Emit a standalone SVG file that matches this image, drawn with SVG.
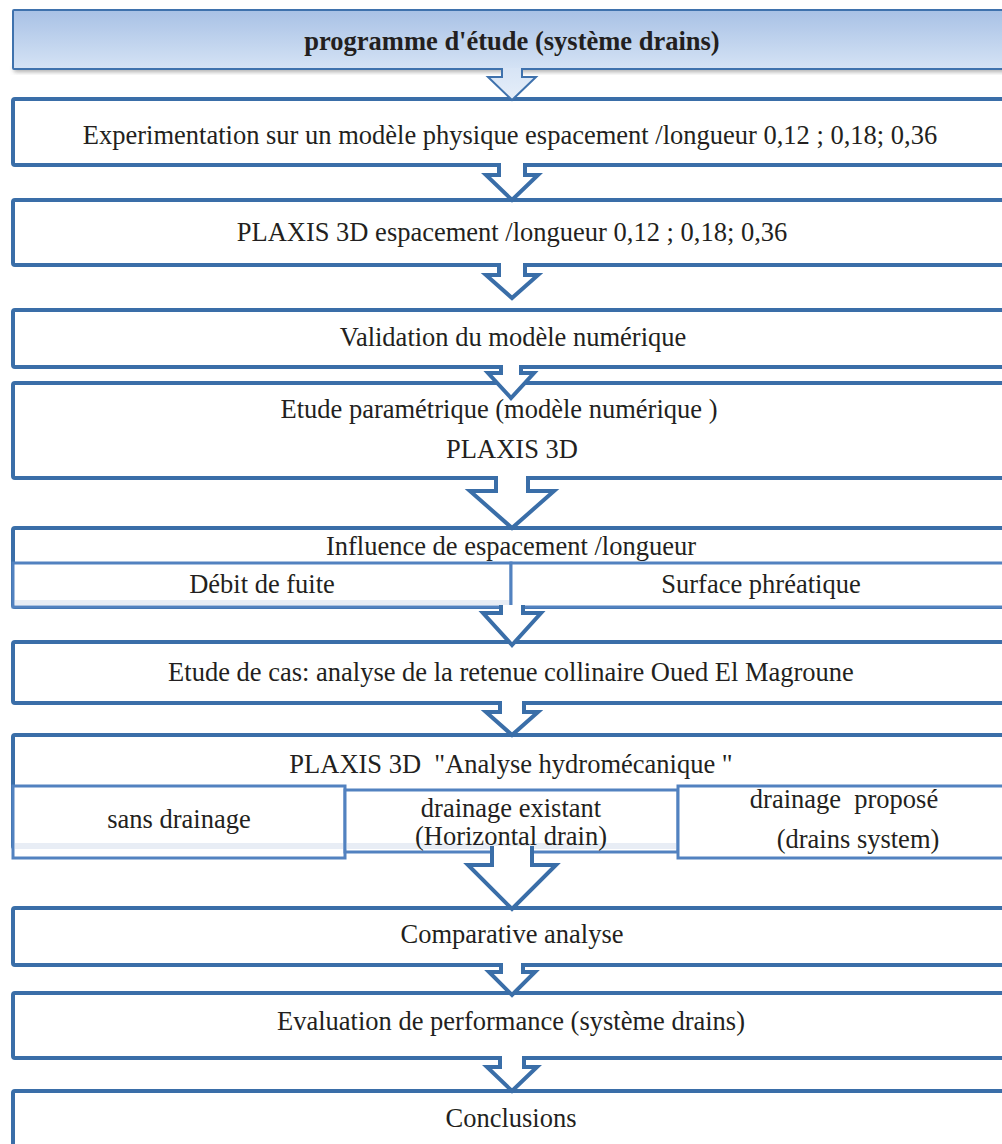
<svg xmlns="http://www.w3.org/2000/svg" width="1002" height="1144" viewBox="0 0 1002 1144">
<defs>
<linearGradient id="hdr" x1="0" y1="0" x2="0" y2="1">
<stop offset="0" stop-color="#a8c1e5"/>
<stop offset="1" stop-color="#d5e3f5"/>
</linearGradient>
<linearGradient id="hdrArrow" gradientUnits="userSpaceOnUse" x1="0" y1="10" x2="0" y2="100">
<stop offset="0" stop-color="#a8c1e5"/>
<stop offset="0.6" stop-color="#d5e3f5"/>
<stop offset="1" stop-color="#e6eef9"/>
</linearGradient>
<filter id="blur" x="-5%" y="-50%" width="110%" height="200%">
<feGaussianBlur stdDeviation="2"/>
</filter>
<style>
.box{fill:#ffffff;stroke:#3a6ea8;stroke-width:4;}
.sub{fill:#ffffff;stroke:#5282c0;stroke-width:3;}
.arr{fill:#ffffff;stroke:#3a6ea8;stroke-width:4;stroke-linejoin:miter;}
.t{font-family:"Liberation Serif","Times New Roman",serif;font-size:26.5px;fill:#231f20;text-anchor:middle;}
.b{font-weight:bold;}
.band{fill:#e8edf5;}
</style>
</defs>

<g id="header">
<rect x="14" y="66" width="1000" height="6" fill="#9a9a9a" filter="url(#blur)" opacity="0.8"/>
<rect x="13" y="10" width="1000" height="59" fill="url(#hdr)" stroke="#3f72ad" stroke-width="2" rx="1"/>
<text class="t b" x="512" y="50">programme d'étude (système drains)</text>
</g>

<g id="box1">
<rect class="box" x="13" y="99" width="1000" height="66" rx="2"/>
<text class="t" x="510" y="144">Experimentation sur un modèle physique espacement /longueur 0,12 ; 0,18; 0,36</text>
</g>

<g id="box2">
<rect class="box" x="13" y="200" width="1000" height="65" rx="2"/>
<text class="t" x="512" y="241">PLAXIS 3D espacement /longueur 0,12 ; 0,18; 0,36</text>
</g>

<g id="box3">
<rect class="box" x="13" y="310" width="1000" height="57" rx="2"/>
<text class="t" x="513" y="346">Validation du modèle numérique</text>
</g>

<g id="box4">
<rect class="box" x="13" y="383" width="1000" height="95" rx="2"/>
<text class="t" x="499" y="418">Etude paramétrique (modèle numérique )</text>
<text class="t" x="512" y="458">PLAXIS 3D</text>
</g>

<g id="box5">
<rect class="box" x="13" y="528" width="1000" height="79" rx="2"/>
<rect class="sub" x="13" y="563" width="498" height="44"/>
<rect class="sub" x="511" y="563" width="500" height="44"/>
<rect class="band" x="15" y="600" width="494" height="5"/>
<text class="t" x="511" y="555">Influence de espacement /longueur</text>
<text class="t" x="262" y="593">Débit de fuite</text>
<text class="t" x="761" y="593">Surface phréatique</text>
</g>

<g id="box6">
<rect class="box" x="13" y="642" width="1000" height="61" rx="2"/>
<text class="t" x="511" y="681">Etude de cas: analyse de la retenue collinaire Oued El Magroune</text>
</g>

<g id="box7">
<rect class="box" x="13" y="735" width="1000" height="113" rx="2"/>
<rect class="sub" x="13" y="786" width="332" height="72"/>
<rect class="sub" x="345" y="790" width="333" height="62"/>
<rect class="sub" x="678" y="786" width="333" height="72"/>
<rect class="band" x="15" y="843" width="328" height="6"/>
<rect class="band" x="347" y="843" width="329" height="6"/>
<text class="t" x="511" y="773" xml:space="preserve">PLAXIS 3D  "Analyse hydromécanique "</text>
<text class="t" x="179" y="828">sans drainage</text>
<text class="t" x="511" y="817">drainage existant</text>
<text class="t" x="511" y="845">(Horizontal drain)</text>
<text class="t" x="844" y="808" xml:space="preserve">drainage  proposé</text>
<text class="t" x="858" y="848">(drains system)</text>
</g>

<g id="box8">
<rect class="box" x="13" y="908" width="1000" height="57" rx="2"/>
<text class="t" x="512" y="943">Comparative analyse</text>
</g>

<g id="box9">
<rect class="box" x="13" y="993" width="1000" height="65" rx="2"/>
<text class="t" x="511" y="1030">Evaluation de performance (système drains)</text>
</g>

<g id="box10">
<rect class="box" x="13" y="1091" width="1000" height="70" rx="2"/>
<text class="t" x="511" y="1127">Conclusions</text>
</g>

<g id="connectors">
<path d="M502,68 V77 H488 L512,100 L536,77 H522 V68" fill="url(#hdrArrow)" stroke="#3f72ad" stroke-width="2"/>
<path class="arr" d="M499,163 V175 H486 L512,200 L538,175 H525 V163"/>
<path class="arr" d="M499,263 V275 H486 L512,298 L538,275 H525 V263"/>
<path class="arr" d="M501,365 V373 H488 L511,398 L534,373 H521 V365"/>
<path class="arr" d="M496,476 V491 H470 L512,528 L554,491 H528 V476"/>
<path class="arr" d="M501,605 V613 H483 L512,645 L541,613 H523 V605"/>
<path class="arr" d="M500,701 V712 H486 L512,735 L538,712 H524 V701"/>
<path class="arr" d="M492,846 V865 H468 L512,909 L556,865 H532 V846"/>
<path class="arr" d="M501,963 V972 H489 L512,995 L535,972 H523 V963"/>
<path class="arr" d="M500,1056 V1067 H487 L512,1091 L537,1067 H524 V1056"/>
</g>
</svg>
